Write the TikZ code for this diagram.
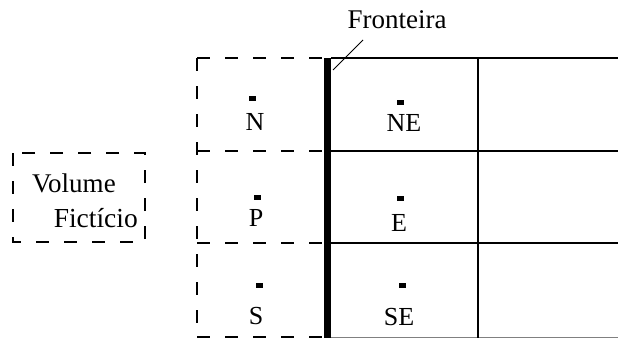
\documentclass[tikz,border=0pt]{standalone}
\usepackage{fontspec}
\setmainfont{Liberation Serif}
\begin{document}
\begin{tikzpicture}[x=1pt,y=-1pt,
  lbl/.style={font=\fontsize{26}{30}\selectfont, inner sep=0pt},
  pt/.style={fill=black, minimum width=7pt, minimum height=5pt, inner sep=0pt, draw=none},
  dsh/.style={line width=1.1pt, dash pattern=on 13pt off 15pt},
  grid/.style={line width=1.3pt},
  wall/.style={line width=7pt}]
\useasboundingbox (0,0) rectangle (618,338);
% coordinates
\coordinate (tl) at (197,58);
\coordinate (bl) at (197,337);
\coordinate (wt) at (327.5,58);
\coordinate (wb) at (327.5,338);
% dashed fictitious column
\draw[dsh] (197,58) -- (324,58);
\draw[dsh] (197,151) -- (324,151);
\draw[dsh] (197,243) -- (324,243);
\draw[dsh] (197,337) -- (324,337);
\draw[dsh] (tl) -- (bl);
% solid grid
\draw[grid] (331,58) -- (618,58);
\draw[grid] (331,151) -- (618,151);
\draw[grid] (331,243) -- (618,243);
\draw[line width=1pt, gray] (331,337) -- (618,337);
\draw[grid] (478,58) -- (478,338);
% boundary wall
\draw[wall] (wt) -- (wb);
% labels
\node[lbl, anchor=base, font=\fontsize{27}{30}\selectfont] (fr) at (397,28) {Fronteira};
\coordinate (frA) at (363,40);
\coordinate (frB) at (333,70);
\draw[line width=0.8pt] (frA) -- (frB);
% points
\node[pt] (dN) at (252,98) {};
\node[lbl] (N) at (255,122) {N};
\node[pt] (dNE) at (400,102) {};
\node[lbl] (NE) at (404,123) {NE};
\node[pt] (dP) at (257,197) {};
\node[lbl] (P) at (256,218) {P};
\node[pt] (dE) at (400,198) {};
\node[lbl] (E) at (399,223) {E};
\node[pt] (dS) at (259,285) {};
\node[lbl] (S) at (256,316) {S};
\node[pt] (dSE) at (402,285) {};
\node[lbl] (SE) at (399,317) {SE};
% fictitious volume box
\draw[dsh] (13,153) rectangle (145,242);
\node[lbl, anchor=base west, font=\fontsize{27}{30}\selectfont] (vol) at (32,192) {Volume};
\node[lbl, anchor=base east, font=\fontsize{27.5}{30}\selectfont] (fic) at (138,227) {Fictício};
\end{tikzpicture}
\end{document}
